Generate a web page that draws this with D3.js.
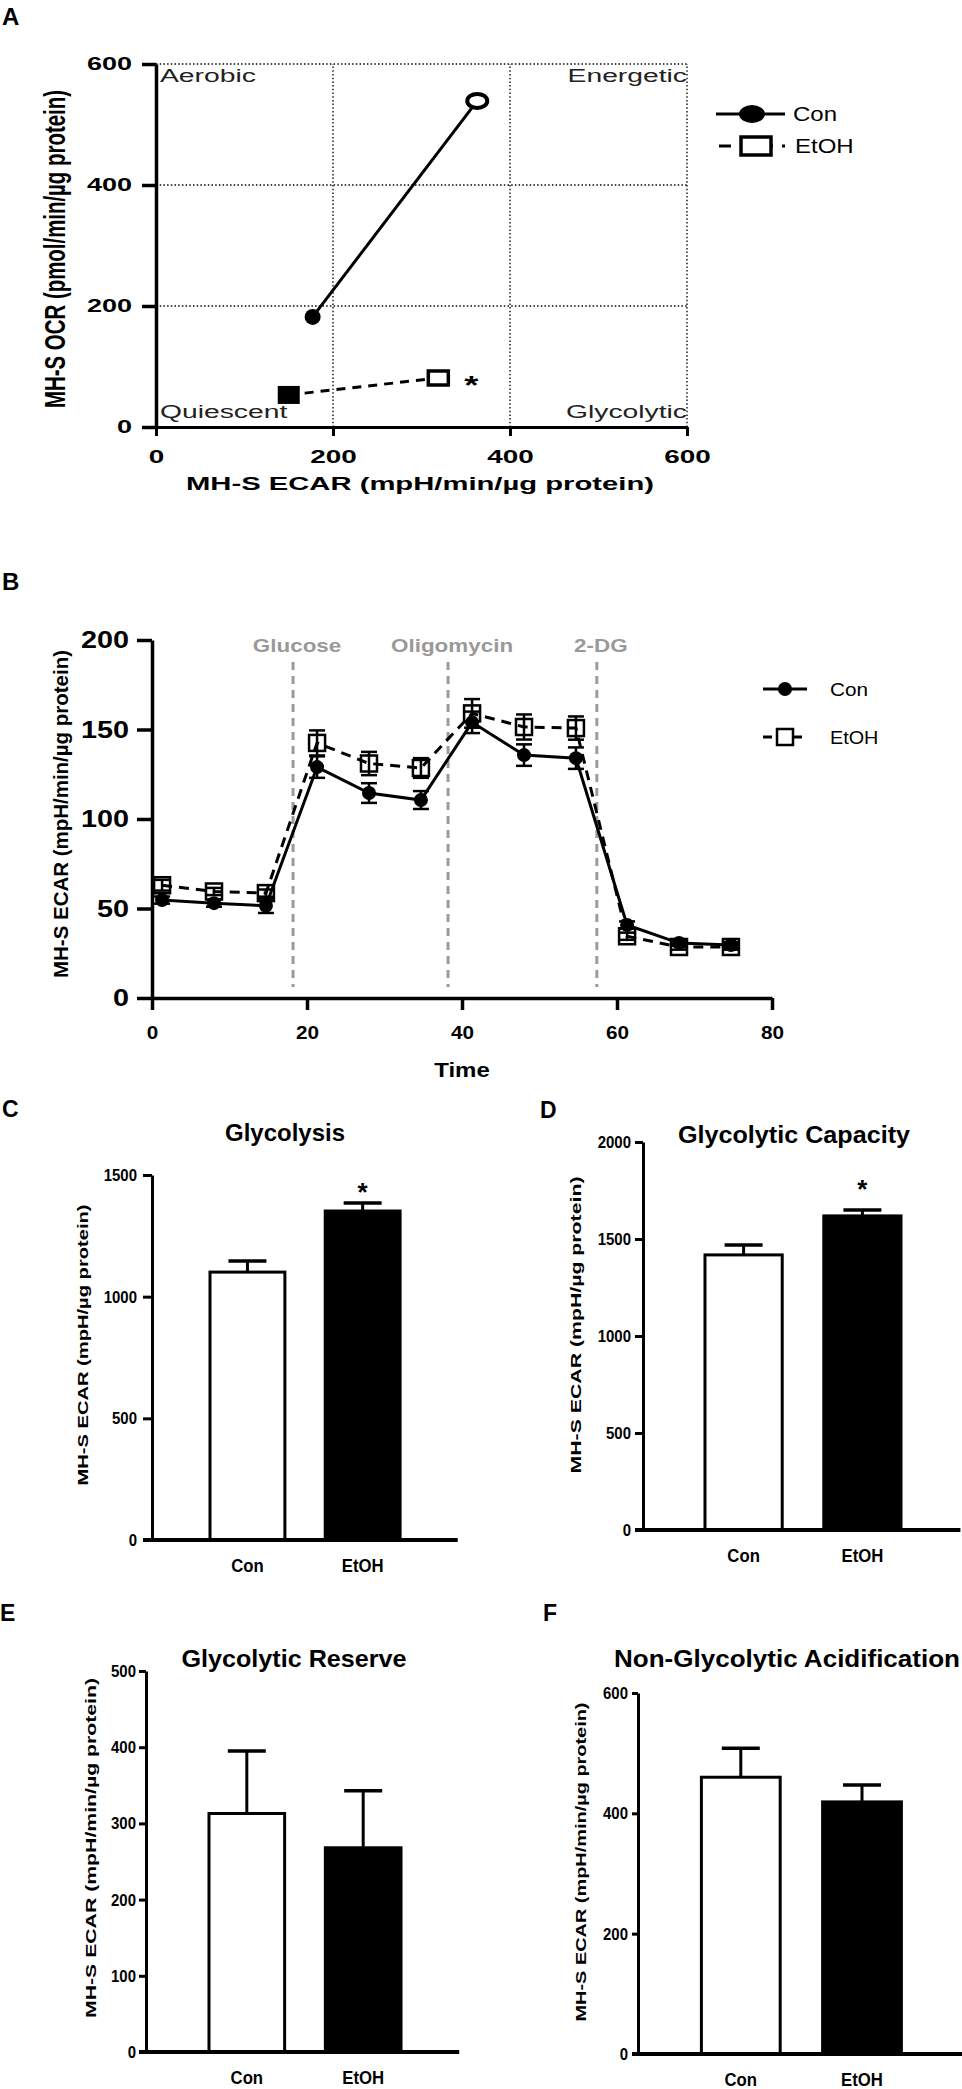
<!DOCTYPE html>
<html>
<head>
<meta charset="utf-8">
<script src="https://cdn.jsdelivr.net/npm/d3@7"></script>
<style>
  body { margin: 0; background: #fff; }
  text { font-family: "Liberation Sans", Arial, Helvetica, sans-serif; }
</style>
</head>
<body>
<div id="figure"></div>
<script>
// ---------- data ----------
// A: energy phenotype, basal -> stressed
const phenoGroups = ['Con', 'EtOH'];
const basalEcar = [177, 150];
const basalOcr = [182, 53];
const stressedEcar = [363, 319];
const stressedOcr = [539, 81];
const quadrants = ['Aerobic', 'Energetic', 'Quiescent', 'Glycolytic'];
const phenoTicks = [0, 200, 400, 600];

// B: ECAR time course
const times = [1.3, 8, 14.7, 21.3, 28, 34.7, 41.3, 48, 54.7, 61.3, 68, 74.7];
const conEcar = [54.7, 53, 51.5, 129, 114.5, 110.6, 154, 135.7, 134, 40.8, 30.7, 29.6];
const conSem = [2, 2, 4, 6, 5.5, 5, 6, 6, 6, 2, 1.5, 1.5];
const etohEcar = [63, 59.5, 58.6, 142.5, 131, 128.5, 159, 151.4, 150.8, 34.5, 28.5, 28.5];
const etohSem = [3, 2, 2, 7, 6.5, 5.5, 8, 7, 6.5, 2, 1.5, 1.5];
const injections = ['Glucose', 'Oligomycin', '2-DG'];
const injectionTimes = [18.2, 38.2, 57.4];
const timeTicks = [0, 20, 40, 60, 80];
const ecarTicks = [0, 50, 100, 150, 200];

// C-F: bar panels
const groups = ['Con', 'EtOH'];
const glycolysis = [1101, 1352];
const glycolysisSem = [46, 33];
const glycolysisTicks = [0, 500, 1000, 1500];
const capacity = [1418, 1619];
const capacitySem = [51, 30];
const capacityTicks = [0, 500, 1000, 1500, 2000];
const reserve = [313, 268];
const reserveSem = [82, 75];
const reserveTicks = [0, 100, 200, 300, 400, 500];
const nonGlyc = [460, 419];
const nonGlycSem = [48, 28];
const nonGlycTicks = [0, 200, 400, 600];

// ---------- setup ----------
const W = 962, H = 2089;
const FONT = '"Liberation Sans", Arial, Helvetica, sans-serif';
const plain = d3.format('d');

const svg = d3.select('#figure').append('svg')
    .attr('width', W)
    .attr('height', H)
    .style('background', '#fff');

function label(g, x, y, str, size, weight, anchor) {
    return g.append('text')
        .attr('x', x)
        .attr('y', y)
        .attr('font-size', size)
        .attr('font-weight', weight || 'normal')
        .attr('text-anchor', anchor || 'start')
        .attr('fill', '#000')
        .text(str);
}

// the source figure is stretched or squeezed sideways, so scale text widths to match
function stretch(sel, k) {
    sel.each(function () {
        const w = this.getComputedTextLength();
        d3.select(this).attr('textLength', w * k).attr('lengthAdjust', 'spacingAndGlyphs');
    });
    return sel;
}

function fit(sel, w) {
    return sel.attr('textLength', w).attr('lengthAdjust', 'spacingAndGlyphs');
}

function styleAxis(g, lw, fs) {
    g.attr('font-family', FONT).attr('font-size', fs);
    g.select('.domain').attr('stroke', '#000').attr('stroke-width', lw);
    g.selectAll('.tick line').attr('stroke', '#000').attr('stroke-width', lw);
    g.selectAll('.tick text').attr('font-weight', 'bold').attr('fill', '#000');
}

// ---------- A ----------
const ax = d3.scaleLinear().domain([0, 600]).range([156, 687]);
const ay = d3.scaleLinear().domain([0, 600]).range([427, 64]);
const gA = svg.append('g');

label(gA, 2, 25, 'A', 24, 'bold');

// dotted quadrant grid
const grid = gA.append('g');
phenoTicks.slice(1).forEach(v => {
    grid.append('line')
        .attr('x1', ax(0)).attr('x2', ax(600))
        .attr('y1', ay(v)).attr('y2', ay(v));
    grid.append('line')
        .attr('x1', ax(v)).attr('x2', ax(v))
        .attr('y1', ay(0)).attr('y2', ay(600));
});
grid.selectAll('line')
    .attr('stroke', '#444')
    .attr('stroke-width', 1.8)
    .attr('stroke-dasharray', '1.5,2.2');

const aYAxis = gA.append('g')
    .attr('transform', `translate(${ax(0)},0)`)
    .call(d3.axisLeft(ay).tickValues(phenoTicks).tickFormat(plain).tickSize(14).tickPadding(10).tickSizeOuter(0));
styleAxis(aYAxis, 3.5, 18);
stretch(aYAxis.selectAll('.tick text'), 1.5);

const aXAxis = gA.append('g')
    .attr('transform', `translate(0,${ay(0)})`)
    .call(d3.axisBottom(ax).tickValues(phenoTicks).tickFormat(plain).tickSize(9).tickPadding(14).tickSizeOuter(0));
styleAxis(aXAxis, 3, 18);
stretch(aXAxis.selectAll('.tick text'), 1.55);

fit(label(gA, 420, 490, 'MH-S ECAR (mpH/min/µg protein)', 18, 'bold', 'middle'), 468);

gA.append('text')
    .attr('transform', 'translate(55,249) scale(1.45,1) rotate(-90)')
    .attr('text-anchor', 'middle')
    .attr('dy', '0.35em')
    .attr('font-size', 20)
    .attr('font-weight', 'bold')
    .attr('textLength', 318)
    .attr('lengthAdjust', 'spacingAndGlyphs')
    .text('MH-S OCR (pmol/min/µg protein)');

// quadrant names
const quadPos = [[ax(0) + 4, ay(600) + 18, 'start'], [ax(600), ay(600) + 18, 'end'],
                 [ax(0) + 4, ay(0) - 9, 'start'], [ax(600), ay(0) - 9, 'end']];
quadrants.forEach((q, i) => {
    stretch(label(gA, quadPos[i][0], quadPos[i][1], q, 18, 'normal', quadPos[i][2]).attr('fill', '#222'), 1.57);
});

// basal -> stressed lines
phenoGroups.forEach((grp, i) => {
    gA.append('line')
        .attr('x1', ax(basalEcar[i])).attr('y1', ay(basalOcr[i]))
        .attr('x2', ax(stressedEcar[i])).attr('y2', ay(stressedOcr[i]))
        .attr('stroke', '#000')
        .attr('stroke-width', 3)
        .attr('stroke-dasharray', i === 1 ? '9,7' : null);
});

// Con markers
gA.append('ellipse')
    .attr('cx', ax(basalEcar[0])).attr('cy', ay(basalOcr[0]))
    .attr('rx', 8).attr('ry', 8)
    .attr('fill', '#000');
gA.append('ellipse')
    .attr('cx', ax(stressedEcar[0])).attr('cy', ay(stressedOcr[0]))
    .attr('rx', 10).attr('ry', 7)
    .attr('fill', '#fff').attr('stroke', '#000').attr('stroke-width', 4);
// EtOH markers
gA.append('rect')
    .attr('x', ax(basalEcar[1]) - 11).attr('y', ay(basalOcr[1]) - 9)
    .attr('width', 22).attr('height', 18)
    .attr('fill', '#000');
gA.append('rect')
    .attr('x', ax(stressedEcar[1]) - 10).attr('y', ay(stressedOcr[1]) - 7)
    .attr('width', 20).attr('height', 14)
    .attr('fill', '#fff').attr('stroke', '#000').attr('stroke-width', 3.5);
stretch(label(gA, ax(stressedEcar[1]) + 33, ay(stressedOcr[1]) + 16, '*', 26, 'bold', 'middle'), 1.4);

// legend A
const legA = gA.append('g');
legA.append('line').attr('x1', 716).attr('x2', 785).attr('y1', 114).attr('y2', 114)
    .attr('stroke', '#000').attr('stroke-width', 3);
legA.append('ellipse').attr('cx', 752).attr('cy', 114).attr('rx', 13).attr('ry', 9).attr('fill', '#000');
legA.append('line').attr('x1', 719).attr('x2', 785).attr('y1', 146).attr('y2', 146)
    .attr('stroke', '#000').attr('stroke-width', 3).attr('stroke-dasharray', '12,9');
legA.append('rect').attr('x', 741).attr('y', 137).attr('width', 30).attr('height', 18)
    .attr('fill', '#fff').attr('stroke', '#000').attr('stroke-width', 3.5);
stretch(label(legA, 793, 121, phenoGroups[0], 20), 1.2);
stretch(label(legA, 795, 153, phenoGroups[1], 20), 1.2);

// ---------- B ----------
const bx = d3.scaleLinear().domain([0, 80]).range([152, 772]);
const by = d3.scaleLinear().domain([0, 200]).range([998, 640]);
const gB = svg.append('g');

label(gB, 2, 590, 'B', 24, 'bold');

// injection markers
injections.forEach((inj, i) => {
    gB.append('line')
        .attr('x1', bx(injectionTimes[i])).attr('x2', bx(injectionTimes[i]))
        .attr('y1', 662).attr('y2', 987)
        .attr('stroke', '#9a9a9a')
        .attr('stroke-width', 3)
        .attr('stroke-dasharray', '8,6');
    stretch(label(gB, bx(injectionTimes[i]) + 4, 652, inj, 19, 'bold', 'middle').attr('fill', '#999'), 1.18);
});

const bYAxis = gB.append('g')
    .attr('transform', `translate(${bx(0)},0)`)
    .call(d3.axisLeft(by).tickValues(ecarTicks).tickFormat(plain).tickSize(15).tickPadding(8).tickSizeOuter(0));
styleAxis(bYAxis, 3.5, 24);
stretch(bYAxis.selectAll('.tick text'), 1.2);

const bXAxis = gB.append('g')
    .attr('transform', `translate(0,${by(0)})`)
    .call(d3.axisBottom(bx).tickValues(timeTicks).tickFormat(plain).tickSize(12).tickPadding(16).tickSizeOuter(0));
styleAxis(bXAxis, 3.5, 18);
stretch(bXAxis.selectAll('.tick text'), 1.15);

stretch(label(gB, 462, 1077, 'Time', 20, 'bold', 'middle'), 1.2);

gB.append('text')
    .attr('transform', 'translate(61,814) rotate(-90)')
    .attr('text-anchor', 'middle')
    .attr('dy', '0.35em')
    .attr('font-size', 20)
    .attr('font-weight', 'bold')
    .attr('textLength', 328)
    .attr('lengthAdjust', 'spacingAndGlyphs')
    .text('MH-S ECAR (mpH/min/µg protein)');

const bLine = d3.line()
    .x((d, i) => bx(times[i]))
    .y(d => by(d));

function errorBars(g, vals, sems, cap) {
    vals.forEach((v, i) => {
        const cx = bx(times[i]);
        g.append('line')
            .attr('x1', cx).attr('x2', cx)
            .attr('y1', by(v - sems[i])).attr('y2', by(v + sems[i]));
        [v - sems[i], v + sems[i]].forEach(e => {
            g.append('line')
                .attr('x1', cx - cap).attr('x2', cx + cap)
                .attr('y1', by(e)).attr('y2', by(e));
        });
    });
    g.selectAll('line').attr('stroke', '#000').attr('stroke-width', 2.5);
}

// Con
gB.append('path')
    .datum(conEcar)
    .attr('d', bLine)
    .attr('fill', 'none')
    .attr('stroke', '#000')
    .attr('stroke-width', 3);
errorBars(gB.append('g'), conEcar, conSem, 8);
gB.selectAll('circle.con')
    .data(conEcar)
    .enter()
    .append('circle')
        .attr('class', 'con')
        .attr('cx', (d, i) => bx(times[i]))
        .attr('cy', d => by(d))
        .attr('r', 7)
        .attr('fill', '#000');

// EtOH
gB.append('path')
    .datum(etohEcar)
    .attr('d', bLine)
    .attr('fill', 'none')
    .attr('stroke', '#000')
    .attr('stroke-width', 3)
    .attr('stroke-dasharray', '10,7');
errorBars(gB.append('g'), etohEcar, etohSem, 8);
gB.selectAll('rect.etoh')
    .data(etohEcar)
    .enter()
    .append('rect')
        .attr('class', 'etoh')
        .attr('x', (d, i) => bx(times[i]) - 8)
        .attr('y', d => by(d) - 8)
        .attr('width', 16)
        .attr('height', 16)
        .attr('fill', 'none')
        .attr('stroke', '#000')
        .attr('stroke-width', 2.5);

// legend B
const legB = gB.append('g');
legB.append('line').attr('x1', 763).attr('x2', 807).attr('y1', 689).attr('y2', 689)
    .attr('stroke', '#000').attr('stroke-width', 3);
legB.append('circle').attr('cx', 785).attr('cy', 689).attr('r', 7).attr('fill', '#000');
legB.append('line').attr('x1', 763).attr('x2', 807).attr('y1', 737).attr('y2', 737)
    .attr('stroke', '#000').attr('stroke-width', 3).attr('stroke-dasharray', '9,6');
legB.append('rect').attr('x', 777).attr('y', 729).attr('width', 16).attr('height', 16)
    .attr('fill', '#fff').attr('stroke', '#000').attr('stroke-width', 2.5);
stretch(label(legB, 830, 696, groups[0], 18), 1.15);
stretch(label(legB, 830, 744, groups[1], 18), 1.1);

// ---------- C-F ----------
const barPanels = [
    {letter: 'C', lx: 2, ly: 1117, title: 'Glycolysis', tx: 285, ty: 1141, tw: 120,
     axisX: 152, tick: 9, pad: 6, y0: 1540, y1: 1175, max: 1500, ticks: glycolysisTicks,
     band: [152.4, 457.7], values: glycolysis, sem: glycolysisSem, star: true, starY: 1201,
     yTitle: 'MH-S ECAR (mpH/µg protein)', ytx: 83, yty: 1345, ytw: 281},
    {letter: 'D', lx: 540, ly: 1118, title: 'Glycolytic Capacity', tx: 794, ty: 1143, tw: 232,
     axisX: 643, tick: 8, pad: 4, y0: 1530, y1: 1142, max: 2000, ticks: capacityTicks,
     band: [645.6, 960.4], values: capacity, sem: capacitySem, star: true, starY: 1198,
     yTitle: 'MH-S ECAR (mpH/µg protein)', ytx: 576, yty: 1325, ytw: 297},
    {letter: 'E', lx: 0, ly: 1621, title: 'Glycolytic Reserve', tx: 294, ty: 1667, tw: 225,
     axisX: 146, tick: 7, pad: 3, y0: 2052, y1: 1671, max: 500, ticks: reserveTicks,
     band: [150.8, 459.2], values: reserve, sem: reserveSem, star: false,
     yTitle: 'MH-S ECAR (mpH/min/µg protein)', ytx: 91, yty: 1848, ytw: 340},
    {letter: 'F', lx: 543, ly: 1621, title: 'Non-Glycolytic Acidification', tx: 787, ty: 1667, tw: 346,
     axisX: 638, tick: 6, pad: 4, y0: 2054, y1: 1693, max: 600, ticks: nonGlycTicks,
     band: [640.8, 962], values: nonGlyc, sem: nonGlycSem, star: false,
     yTitle: 'MH-S ECAR (mpH/min/µg protein)', ytx: 581, yty: 1862, ytw: 319}
];

function barPanel(p) {
    const g = svg.append('g');
    const y = d3.scaleLinear().domain([0, p.max]).range([p.y0, p.y1]);
    const x = d3.scaleBand().domain(groups).range(p.band).paddingInner(0.35).paddingOuter(0.5);

    label(g, p.lx, p.ly, p.letter, 23, 'bold');
    fit(label(g, p.tx, p.ty, p.title, 24, 'bold', 'middle'), p.tw);

    g.append('text')
        .attr('transform', `translate(${p.ytx},${p.yty}) rotate(-90)`)
        .attr('text-anchor', 'middle')
        .attr('dy', '0.35em')
        .attr('font-size', 15)
        .attr('font-weight', 'bold')
        .attr('textLength', p.ytw)
        .attr('lengthAdjust', 'spacingAndGlyphs')
        .text(p.yTitle);

    // bars
    g.selectAll('rect.bar')
        .data(groups)
        .enter()
        .append('rect')
            .attr('class', 'bar')
            .attr('x', d => x(d))
            .attr('y', (d, i) => y(p.values[i]))
            .attr('width', x.bandwidth())
            .attr('height', (d, i) => y(0) - y(p.values[i]))
            .attr('fill', (d, i) => i === 0 ? '#fff' : '#000')
            .attr('stroke', '#000')
            .attr('stroke-width', 3);

    // upper error bars
    groups.forEach((d, i) => {
        const cx = x(d) + x.bandwidth() / 2;
        const top = y(p.values[i] + p.sem[i]);
        g.append('line').attr('x1', cx).attr('x2', cx).attr('y1', y(p.values[i])).attr('y2', top)
            .attr('stroke', '#000').attr('stroke-width', 3);
        g.append('line').attr('x1', cx - 19).attr('x2', cx + 19).attr('y1', top).attr('y2', top)
            .attr('stroke', '#000').attr('stroke-width', 3.5);
    });

    if (p.star) {
        label(g, x('EtOH') + x.bandwidth() / 2, p.starY, '*', 26, 'bold', 'middle');
    }

    const yAxis = g.append('g')
        .attr('transform', `translate(${p.axisX},0)`)
        .call(d3.axisLeft(y).tickValues(p.ticks).tickFormat(plain).tickSize(p.tick).tickPadding(p.pad).tickSizeOuter(0));
    styleAxis(yAxis, 3, 17);
    stretch(yAxis.selectAll('.tick text'), 0.88);

    const xAxis = g.append('g')
        .attr('transform', `translate(0,${p.y0})`)
        .call(d3.axisBottom(x).tickSize(0).tickPadding(19).tickSizeOuter(0));
    styleAxis(xAxis, 4, 19);
    stretch(xAxis.selectAll('.tick text'), 0.88);
    xAxis.select('.domain').remove();
    g.append('line')
        .attr('x1', p.axisX - p.tick).attr('x2', p.band[1])
        .attr('y1', p.y0).attr('y2', p.y0)
        .attr('stroke', '#000')
        .attr('stroke-width', 4);
}

barPanels.forEach(barPanel);
</script>
</body>
</html>
